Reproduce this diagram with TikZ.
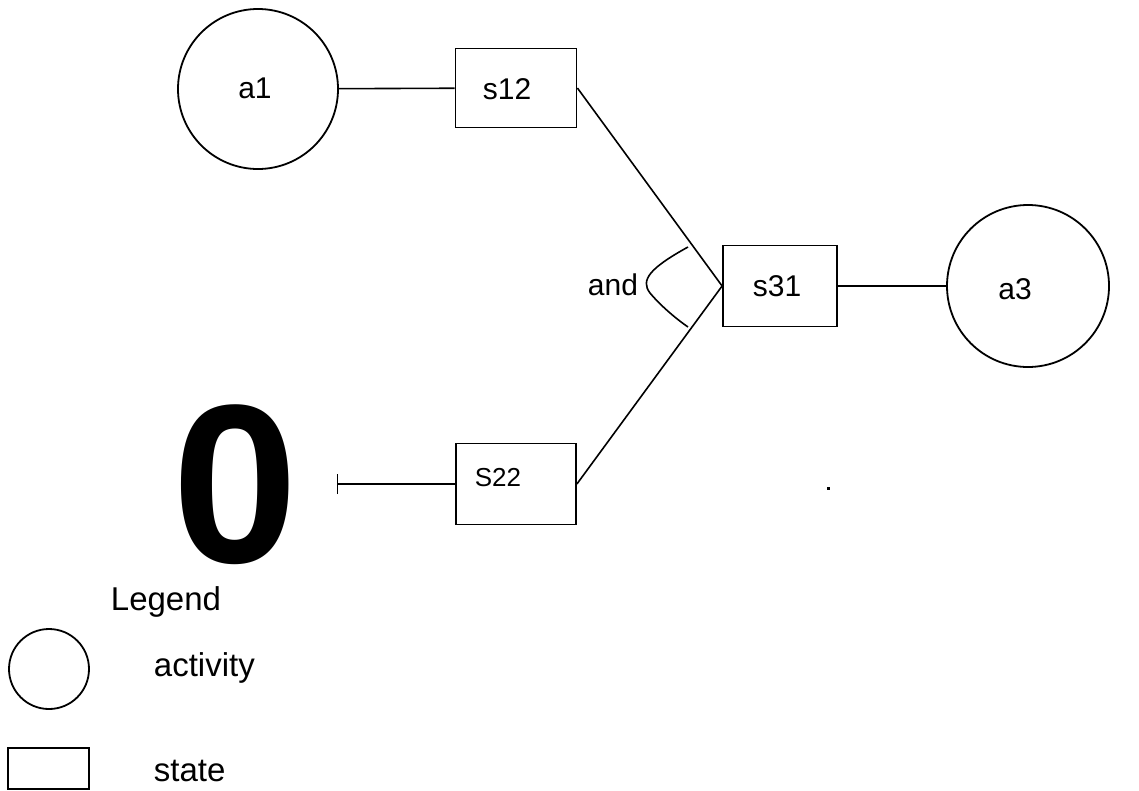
\documentclass[tikz,border=0pt]{standalone}
\usepackage{fontspec}
\setmainfont{Liberation Sans}
\usetikzlibrary{arrows.meta}
\begin{document}
\begin{tikzpicture}[x=1pt,y=-1pt,
  line width=1.8pt,
  activity/.style={circle,draw,minimum size=#1,inner sep=0pt},
  statebox/.style={rectangle,draw,inner sep=0pt},
  lbl/.style={font=\fontsize{30}{30}\selectfont,inner sep=0pt},
  leglbl/.style={font=\fontsize{33}{33}\selectfont,inner sep=0pt},
  conn/.style={line width=1.6pt}]
\useasboundingbox (0,0) rectangle (1139,790);
% activities
\node[activity=160pt] (a1) at (258,89) {};
\node[lbl] (a1t) at (255,88) {a1};
\node[activity=162pt] (a3) at (1028,286) {};
\node[lbl] (a3t) at (1015,289) {a3};
% states
\node[statebox,minimum width=121pt,minimum height=79pt] (s12) at (516,88) {};
\node[lbl] (s12t) at (507,89) {s12};
\node[statebox,minimum width=114pt,minimum height=81pt] (s31) at (780,286) {};
\node[lbl] (s31t) at (777,286) {s31};
\node[statebox,minimum width=120pt,minimum height=81pt] (s22) at (516,484) {};
\node[font=\fontsize{26}{26}\selectfont,inner sep=0pt] (s22t) at (498,478) {S22};
% connectors
\coordinate (tick) at (337,484);
\draw[conn] (a1) -- (s12);
\draw[conn] (s12.east) -- (s31.west);
\draw[conn] (s22.east) -- (s31.west);
\draw[conn] (s31) -- (a3);
\draw[conn,-{Bar[width=20pt,line width=1.4pt]}] (s22.west) -- (tick);
% and
\draw[conn] (688,247) .. controls (650,268) and (640,280) .. (650,293) .. controls (660,305) and (675,318) .. (688,327);
\node[lbl] (andt) at (613,285) {and};
% big zero
\node[font=\fontsize{226}{226}\selectfont\bfseries,inner sep=0pt,text depth=0pt] (zero) at (235,484) {0};
% stray dot
\fill (826.5,487) rectangle (829.5,490);
% legend
\node[leglbl,anchor=base] (leg) at (166,610) {Legend};
\node[activity=80pt] (lc) at (49,669) {};
\node[leglbl,anchor=west] (lct) at (153,668) {activity};
\node[statebox,minimum width=81pt,minimum height=41pt] (lr) at (48.5,768.5) {};
\node[leglbl,anchor=west] (lrt) at (153,771) {state};
\end{tikzpicture}
\end{document}
